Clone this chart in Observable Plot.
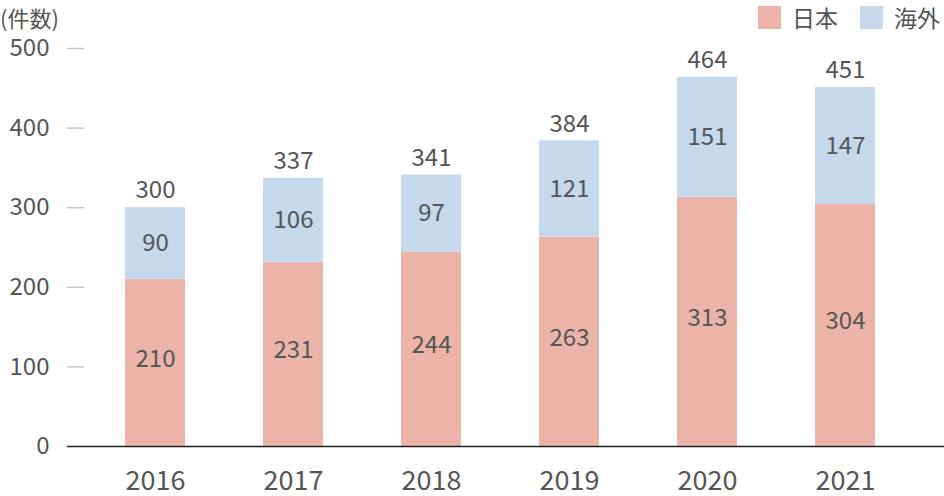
<!DOCTYPE html>
<html><head><meta charset="utf-8">
<script src="https://cdn.jsdelivr.net/npm/d3@7"></script>
<script src="https://cdn.jsdelivr.net/npm/@observablehq/plot@0.6"></script>
<style>
body{margin:0;background:#fff;font-family:"Noto Sans CJK JP","Noto Sans",sans-serif;}
#wrap{position:relative;width:944px;height:496px;}
#unit{position:absolute;left:0px;top:5px;font-size:22px;line-height:24px;color:#555;}
#legend{position:absolute;right:4px;top:5px;display:flex;align-items:center;font-size:23px;line-height:25px;color:#555;}
#legend span.sw{display:inline-block;width:23px;height:23px;margin-right:11px;}
#legend .item{display:flex;align-items:center;margin-left:22px;}
</style></head><body>
<div id="wrap">
<div id="unit">(件数)</div>
<div id="legend"></div>
<div id="chart"></div>
</div>
<script>
const years = ["2016","2017","2018","2019","2020","2021"];
const japan = [210,231,244,263,313,304];
const overseas = [90,106,97,121,151,147];
const totals = [300,337,341,384,464,451];
const yTicks = [0,100,200,300,400,500];
const seriesNames = ["日本","海外"];
const colors = ["#ecb4a9","#c6d8eb"];

const rows = [];
years.forEach((y,i)=>{
  rows.push({year:y, series:"日本", value:japan[i]});
  rows.push({year:y, series:"海外", value:overseas[i]});
});
const totalRows = years.map((y,i)=>({year:y,total:totals[i]}));

const leg = document.getElementById("legend");
seriesNames.forEach((s,i)=>{
  const d=document.createElement("div");d.className="item";
  d.innerHTML=`<span class="sw" style="background:${colors[i]}"></span>${s}`;
  leg.appendChild(d);
});

const font = '"Noto Sans CJK JP","Noto Sans",sans-serif';
const chart = Plot.plot({
  width:944, height:496,
  marginLeft:67, marginRight:0, marginTop:48, marginBottom:50,
  style:{fontFamily:font, color:"#555", background:"transparent"},
  x:{domain:years, range:[86,914], paddingInner:0.565, paddingOuter:0.2825},
  y:{domain:[0,500], range:[446,48]},
  color:{domain:seriesNames, range:colors},
  marks:[
    Plot.ruleY(yTicks.filter(d=>d>0), {stroke:"#c8c8c8", strokeWidth:1.5, insetRight:860}),
    Plot.barY(rows, Plot.stackY({x:"year", y:"value", fill:"series", order:seriesNames})),
    Plot.text(rows.filter(d=>d.series==="日本"), Plot.stackY({x:"year", y:"value", z:"series", order:seriesNames, text:d=>String(d.value), fontSize:24, fill:"#555", dy:-4})),
    Plot.text(rows, Plot.stackY({x:"year", y:"value", z:"series", order:seriesNames, text:d=>d.series==="海外"?String(d.value):"", fontSize:24, fill:"#555"})),
    Plot.text(totalRows, {x:"year", y:"total", text:d=>String(d.total), dy:-17, fontSize:24, fill:"#555"}),
    Plot.ruleY([0], {stroke:"#222", strokeWidth:1.5}),
    Plot.axisY({ticks:yTicks, tickSize:0, tickPadding:18, fontSize:24, label:null, fill:"#555"}),
    Plot.axisX({tickSize:0, tickPadding:24, fontSize:27, label:null, fill:"#555"})
  ]
});
document.getElementById("chart").appendChild(chart);
</script>
</body></html>
